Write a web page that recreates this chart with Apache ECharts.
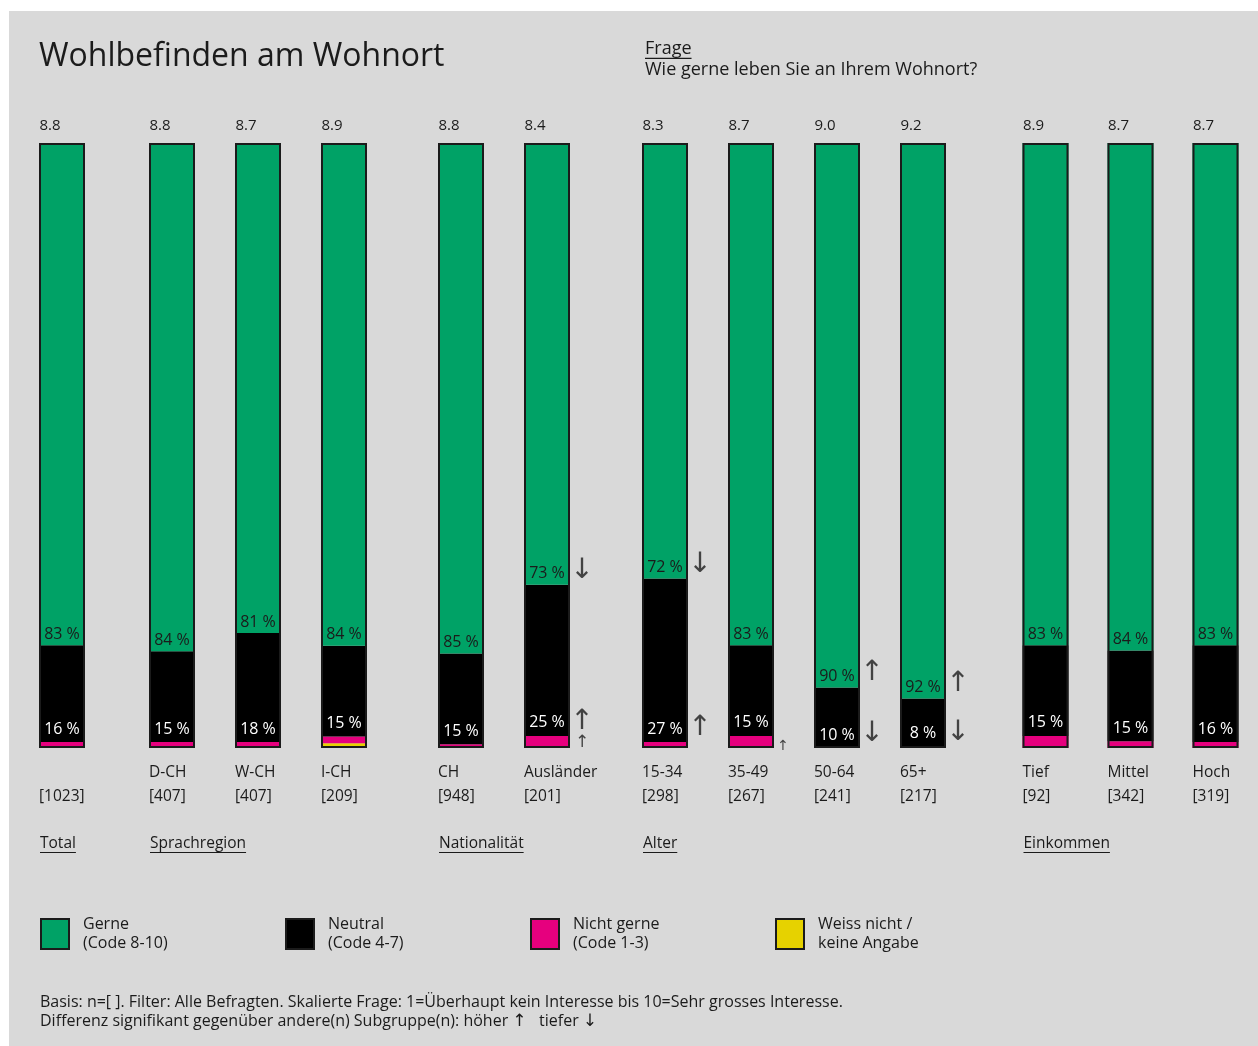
<!DOCTYPE html>
<html>
<head>
<meta charset="utf-8">
<title>Wohlbefinden am Wohnort</title>
<script src="https://cdn.jsdelivr.net/npm/echarts@6/dist/echarts.min.js"></script>
<style>
  html, body { margin: 0; padding: 0; background: #ffffff; }
  #panel { position: absolute; left: 9px; top: 11px; width: 1249px; height: 1035px; background: #d9d9d9; }
  #chart { position: absolute; left: 0; top: 0; width: 1258px; height: 1046px; }
</style>
</head>
<body>
<div id="panel"></div>
<div id="chart"></div>
<script>
// ---- data ----
const groups = ['Total', 'Sprachregion', 'Nationalität', 'Alter', 'Einkommen'];
const categories = ['', 'D-CH', 'W-CH', 'I-CH', 'CH', 'Ausländer', '15-34', '35-49', '50-64', '65+', 'Tief', 'Mittel', 'Hoch'];
const categoryGroup = [0, 1, 1, 1, 2, 2, 3, 3, 3, 3, 4, 4, 4];
const sampleSizes = [1023, 407, 407, 209, 948, 201, 298, 267, 241, 217, 92, 342, 319];
const meanScores = ['8.8', '8.8', '8.7', '8.9', '8.8', '8.4', '8.3', '8.7', '9.0', '9.2', '8.9', '8.7', '8.7'];
const gerne      = [83, 84, 81, 84, 85, 73, 72, 83, 90, 92, 83, 84, 83];
const neutral    = [16, 15, 18, 15, 15, 25, 27, 15, 10, 8, 15, 15, 16];
const nichtGerne = [1, 1, 1, 1.1, 0.6, 2, 1, 1.7, 0, 0.2, 2, 1.1, 1];
const weissNicht = [0, 0, 0, 0.8, 0, 0, 0, 0.3, 0, 0, 0, 0, 0];
// significant differences: [category index, segment, direction]
const significance = [
  [5, 'gerne', 'down'], [5, 'neutral', 'up'], [5, 'nicht', 'up'],
  [6, 'gerne', 'down'], [6, 'neutral', 'up'],
  [7, 'weiss', 'up'],
  [8, 'gerne', 'up'], [8, 'neutral', 'down'],
  [9, 'gerne', 'up'], [9, 'neutral', 'down']
];
const legendLabels = {
  'Gerne': 'Gerne\n(Code 8-10)',
  'Neutral': 'Neutral\n(Code 4-7)',
  'Nicht gerne': 'Nicht gerne\n(Code 1-3)',
  'Weiss nicht': 'Weiss nicht /\nkeine Angabe'
};
const titleText = 'Wohlbefinden am Wohnort';
const questionHead = 'Frage';
const questionText = 'Wie gerne leben Sie an Ihrem Wohnort?';
const footnote = 'Basis: n=[ ]. Filter: Alle Befragten. Skalierte Frage: 1=Überhaupt kein Interesse bis 10=Sehr grosses Interesse.\nDifferenz signifikant gegenüber andere(n) Subgruppe(n): höher {a|\u2191}   tiefer {a|\u2193}';

// ---- layout & styling ----
const FONT = '"Open Sans", "Noto Sans", sans-serif';
const ARROW_FONT = '"Noto Sans", "DejaVu Sans", sans-serif';
const INK = '#1b1b1b';
const COLORS = { gerne: '#00a266', neutral: '#000000', nicht: '#e6007e', weiss: '#e6d200' };
const BAR_W = 46;
const BAND = 86;
const GROUP_LEFT = [19, 129, 418, 622, 1003];   // left edge of each group's plot area
const PLOT_TOP = 143, PLOT_H = 605;

const layers = [
  { name: 'Weiss nicht', values: weissNicht, color: COLORS.weiss },
  { name: 'Nicht gerne', values: nichtGerne, color: COLORS.nicht },
  { name: 'Neutral', values: neutral, color: COLORS.neutral, labelColor: '#ffffff', dist: 5 },
  { name: 'Gerne', values: gerne, color: COLORS.gerne, labelColor: INK, dist: 3 }
];

const grids = [], xAxes = [], yAxes = [], series = [];
const groupNames = [];

groups.forEach((g, gi) => {
  const idx = categories.map((c, i) => i).filter(i => categoryGroup[i] === gi);
  const names = idx.map(i => categories[i] || groups[gi]);
  groupNames.push(names);

  grids.push({ left: GROUP_LEFT[gi], top: PLOT_TOP, width: idx.length * BAND, height: PLOT_H, containLabel: false });

  // bottom axis: subgroup name and sample size, left-aligned on the bar
  xAxes.push({
    type: 'category', gridIndex: gi, data: names, position: 'bottom',
    axisLine: { show: false }, axisTick: { show: false }, splitLine: { show: false },
    axisLabel: {
      interval: 0, margin: 13, align: 'center', verticalAlign: 'top',
      formatter: (v, k) => '{c|' + (categories[idx[k]] || ' ') + '}\n{c|[' + sampleSizes[idx[k]] + ']}',
      rich: { c: { width: BAR_W, align: 'left', fontFamily: FONT, fontSize: 15.5, lineHeight: 24, color: INK } }
    }
  });
  // top axis: mean score above each bar
  xAxes.push({
    type: 'category', gridIndex: gi, data: names, position: 'top',
    axisLine: { show: false }, axisTick: { show: false }, splitLine: { show: false },
    axisLabel: {
      interval: 0, margin: 7, align: 'center', verticalAlign: 'bottom',
      formatter: (v, k) => '{m|' + meanScores[idx[k]] + '}',
      rich: { m: { width: BAR_W, align: 'left', padding: [0, 0, 0, 1], fontFamily: FONT, fontSize: 15, lineHeight: 20, color: INK } }
    }
  });
  yAxes.push({ type: 'value', gridIndex: gi, min: 0, max: 100, show: false, splitLine: { show: false } });

  layers.forEach(layer => {
    series.push({
      name: layer.name, type: 'bar', stack: 'share' + gi,
      xAxisIndex: 2 * gi, yAxisIndex: gi, barWidth: BAR_W,
      data: idx.map(i => layer.values[i]),
      itemStyle: { color: layer.color },
      emphasis: { disabled: true },
      label: layer.labelColor ? {
        show: true, position: 'insideBottom', distance: layer.dist, color: layer.labelColor,
        fontFamily: FONT, fontSize: 16, formatter: p => p.value + ' %'
      } : { show: false }
    });
  });

  // outline around the whole bar
  series.push({
    name: 'frame' + gi, type: 'bar', xAxisIndex: 2 * gi + 1, yAxisIndex: gi, barWidth: BAR_W,
    data: idx.map(() => 100), silent: true, z: 3,
    itemStyle: { color: 'rgba(0,0,0,0)', borderColor: INK, borderWidth: 2 }
  });

  // significance arrows next to the segment they refer to
  const marks = significance.filter(s => categoryGroup[s[0]] === gi).map(([i, seg, dir]) => {
    let y, dy, size, dx;
    if (seg === 'gerne') { y = weissNicht[i] + nichtGerne[i] + neutral[i]; dy = -15; size = 28; dx = 35; }
    else if (seg === 'neutral') { y = weissNicht[i] + nichtGerne[i]; dy = -15; size = 28; dx = 35; }
    else if (seg === 'nicht') { y = weissNicht[i] + nichtGerne[i] / 2; dy = 0; size = 17; dx = 35; }
    else { y = weissNicht[i] / 2; dy = -1; size = 14; dx = 32; }
    return {
      value: [categories[i] || groups[gi], y],
      glyph: dir === 'up' ? '\u2191' : '\u2193',
      label: { offset: [dx, dy], fontSize: size }
    };
  });
  if (marks.length) {
    series.push({
      name: 'arrows' + gi, type: 'scatter', xAxisIndex: 2 * gi, yAxisIndex: gi,
      data: marks, symbolSize: 1, silent: true, z: 4,
      itemStyle: { color: 'rgba(0,0,0,0)' },
      label: {
        show: true, position: 'inside', align: 'center', verticalAlign: 'middle',
        fontFamily: ARROW_FONT, color: INK, formatter: p => p.data.glyph
      }
    });
  }
});

const chart = echarts.init(document.getElementById('chart'), null, { renderer: 'canvas' });

chart.setOption({
  animation: false,
  backgroundColor: 'transparent',
  textStyle: { fontFamily: FONT, color: INK },
  title: {
    text: titleText, left: 39, top: 41, padding: 0,
    textStyle: { fontFamily: FONT, fontSize: 32, fontWeight: 'normal', color: INK }
  },
  grid: grids,
  xAxis: xAxes,
  yAxis: yAxes,
  legend: {
    data: ['Gerne', 'Neutral', 'Nicht gerne', 'Weiss nicht'],
    left: 40, top: 915, padding: 0,
    icon: 'rect', itemWidth: 28, itemHeight: 30, itemGap: 12,
    selectedMode: false,
    itemStyle: { borderColor: INK, borderWidth: 2 },
    formatter: name => legendLabels[name],
    textStyle: { fontFamily: FONT, fontSize: 16, lineHeight: 19, color: INK, width: 190, padding: [0, 0, 0, 9] }
  },
  series: series
});

// header, group captions with underline, footnote
const measure = document.createElement('canvas').getContext('2d');
function textWidth(str, size) {
  measure.font = size + 'px ' + FONT;
  return measure.measureText(str).width;
}
const graphics = [];
function underlined(text, x, yMid, size) {
  graphics.push({
    type: 'text', x: x, y: yMid, silent: true,
    style: { text, fontFamily: FONT, fontSize: size, fill: INK, verticalAlign: 'middle' }
  });
  graphics.push({
    type: 'rect', silent: true,
    shape: { x: x, y: yMid + size * 0.38 + 2, width: textWidth(text, size), height: 1.2 },
    style: { fill: INK }
  });
}
underlined(questionHead, 645, 49, 18);
graphics.push({
  type: 'text', x: 645, y: 70, silent: true,
  style: { text: questionText, fontFamily: FONT, fontSize: 18, fill: INK, verticalAlign: 'middle' }
});
const baseY = chart.convertToPixel({ yAxisIndex: 0 }, 0);
groups.forEach((g, gi) => {
  const cx = chart.convertToPixel({ xAxisIndex: 2 * gi }, groupNames[gi][0]);
  underlined(g, cx - BAR_W / 2 + 1, baseY + 96, 15.5);
});
graphics.push({
  type: 'text', x: 40, y: 993, silent: true,
  style: {
    text: footnote, fontFamily: FONT, fontSize: 16, lineHeight: 19, fill: INK,
    rich: { a: { fontFamily: ARROW_FONT, fontSize: 17, lineHeight: 19, color: INK } }
  }
});
chart.setOption({ graphic: graphics });
</script>
</body>
</html>
